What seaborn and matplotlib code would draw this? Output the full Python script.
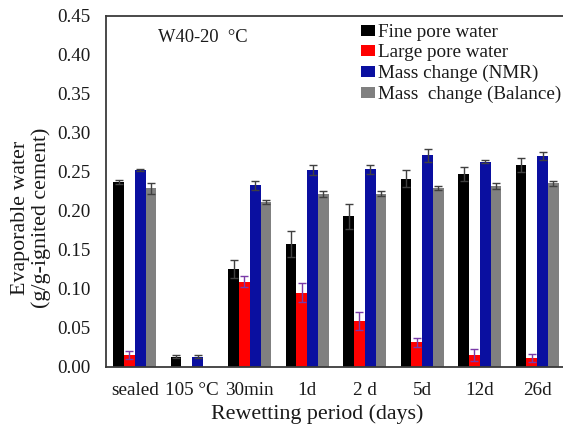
import numpy as np
import pandas as pd
import matplotlib
matplotlib.use("Agg")
import matplotlib.pyplot as plt
import seaborn as sns

categories = ["sealed", "105 °C", "30min", "1d", "2 d", "5d", "12d", "26d"]
series = ["Fine pore water", "Large pore water", "Mass change (NMR)", "Mass  change (Balance)"]

fine = [0.237, 0.0125, 0.125, 0.157, 0.193, 0.241, 0.247, 0.259]
fine_err = [0.003, 0.002, 0.012, 0.017, 0.016, 0.011, 0.009, 0.009]
large = [0.015, np.nan, 0.109, 0.095, 0.059, 0.031, 0.015, 0.011]
large_err = [0.0055, np.nan, 0.0075, 0.012, 0.0115, 0.0054, 0.008, 0.0054]
nmr = [0.252, 0.0125, 0.233, 0.252, 0.253, 0.271, 0.263, 0.270]
nmr_err = [0.001, 0.002, 0.0058, 0.0064, 0.006, 0.0084, 0.0021, 0.0051]
balance = [0.229, np.nan, 0.211, 0.221, 0.222, 0.229, 0.232, 0.235]
balance_err = [0.0072, np.nan, 0.0026, 0.0039, 0.0034, 0.0026, 0.0039, 0.0028]

values = [fine, large, nmr, balance]
errors = [fine_err, large_err, nmr_err, balance_err]
colors = ["#000000", "#FF0000", "#0A0FA0", "#808080"]
err_colors = ["#404040", "#7A3AA8", "#404040", "#404040"]

rows = []
for s, vals, errs in zip(series, values, errors):
    for c, v, e in zip(categories, vals, errs):
        rows.append({"Period": c, "Series": s, "Value": v, "Err": e})
df = pd.DataFrame(rows)

sns.set_style("white")
plt.rcParams["font.family"] = ["Liberation Serif", "DejaVu Serif"]

fig = plt.figure(figsize=(5.63, 4.30), dpi=100)
ax = fig.add_axes([106 / 563, 1 - 366.5 / 430, 460 / 563, 350.5 / 430])

sns.barplot(data=df.dropna(subset=["Value"]), x="Period", y="Value", hue="Series",
            order=categories, hue_order=series, palette=colors,
            width=0.75, gap=0, errorbar=None, saturation=1, ax=ax,
            edgecolor="none", linewidth=0)

bar_containers = list(ax.containers)
for j, cont in enumerate(bar_containers):
    xs, ys, es = [], [], []
    for bar in cont.patches:
        if bar is None:
            continue
        xc = bar.get_x() + bar.get_width() / 2
        i = int(round(xc))
        e = errors[j][i]
        if np.isnan(e):
            continue
        xs.append(xc)
        ys.append(bar.get_height())
        es.append(e)
    ax.errorbar(xs, ys, yerr=es, fmt="none", ecolor=err_colors[j],
                elinewidth=1.0, capsize=3.2, capthick=1.0, zorder=5)

ax.set_xlim(-0.5, len(categories) - 0.5)
ax.set_ylim(0, 0.45)
ax.set_yticks(np.arange(0, 0.4501, 0.05))
ax.set_yticklabels([f"{t:.2f}" for t in np.arange(0, 0.4501, 0.05)])
ax.tick_params(axis="both", length=0, labelsize=13.8, colors="#1a1a1a")
ax.tick_params(axis="y", pad=11)
ax.tick_params(axis="x", pad=11)

for side in ["left", "bottom", "top", "right"]:
    ax.spines[side].set_visible(True)
    ax.spines[side].set_color("#3a3a3a")
    ax.spines[side].set_linewidth(1.3)

ax.set_xlabel("Rewetting period (days)", fontsize=15.8, color="#1a1a1a")
ax.xaxis.set_label_coords((317 - 106) / 460, (366.5 - 404) / 350.5)
ax.set_ylabel("")
fig.text(31 / 563, 1 - 218 / 430, "Evaporable water\n(g/g-ignited cement)",
         rotation=90, ha="center", va="center", fontsize=15.8,
         linespacing=1.05, color="#1a1a1a")

fig.text(158 / 563, 1 - 38 / 430, "W40-20  °C", ha="left", va="center",
         fontsize=13.3, color="#1a1a1a")

handles, labels = ax.get_legend_handles_labels()
leg = ax.legend(handles, labels, loc="upper right", bbox_to_anchor=(561 / 563, 1 - 24 / 430),
                bbox_transform=fig.transFigure, frameon=False, fontsize=13.8,
                handlelength=0.75, handleheight=0.5, handletextpad=0.15,
                labelspacing=0.18, borderpad=0, borderaxespad=0)
for t in leg.get_texts():
    t.set_color("#1a1a1a")

fig.savefig("out.png", dpi=100)
